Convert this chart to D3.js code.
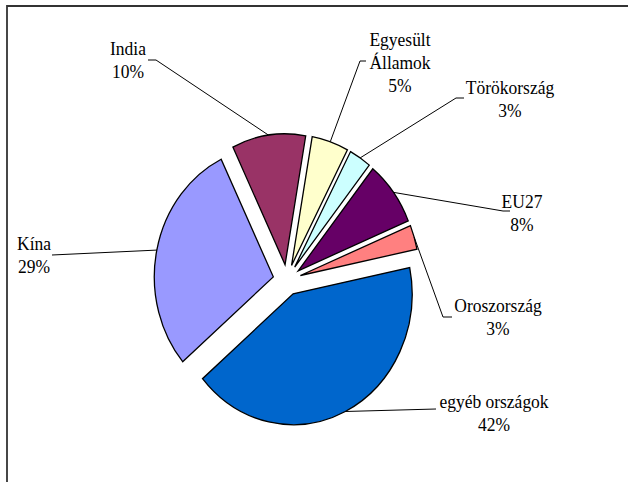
<!DOCTYPE html>
<html>
<head>
<meta charset="utf-8">
<script src="https://cdn.jsdelivr.net/npm/d3@7"></script>
<style>
  body { margin: 0; background: #fff; }
  .lbl text { font-family: "Liberation Serif", "Times New Roman", "DejaVu Serif", serif; font-size: 17.5px; }
</style>
</head>
<body>
<div id="chart"></div>
<script>
// data
var categories = ["India", "Egyesült Államok", "Törökország", "EU27", "Oroszország", "egyéb országok", "Kína"];
var shares = [10, 5, 3, 8, 3, 42, 29];
var colors = ["#993366", "#FFFFCC", "#CCFFFF", "#660066", "#FF8080", "#0066CC", "#9999FF"];

// label placement, as the labels were dragged in the original sheet
var labelLines = [["India"], ["Egyesült", "Államok"], ["Törökország"], ["EU27"], ["Oroszország"], ["egyéb országok"], ["Kína"]];
var labelPos = [[128, 55], [400, 46], [510, 94], [522, 208], [498, 312], [494, 408], [34, 250]];
var leaderPts = [
  [[156, 60], [148, 60]],
  [[360, 61], [366, 61]],
  [[456, 98], [464, 98]],
  [[503, 211], [510, 211]],
  [[443, 317], [452, 317]],
  [[436, 409]],
  [[52, 255]]
];

var width = 628, height = 482;
var cx = 287, cy = 280, rx = 119, k = 1.1, explode = 14;   // the pie is a bit taller than wide
var lineGap = 21;

var svg = d3.select("#chart")
  .append("svg")
    .attr("width", width)
    .attr("height", height);

// chart frame (cut off at right and bottom)
svg.append("path")
  .attr("d", "M7," + height + "V6H" + width)
  .attr("fill", "none")
  .attr("stroke", "#333")
  .attr("stroke-width", 1.8);

var pie = d3.pie()
  .sort(null)
  .value(function(d) { return d; })
  .startAngle(-26 * Math.PI / 180)
  .endAngle(-26 * Math.PI / 180 + 2 * Math.PI);

var arcs = pie(shares);
var arc = d3.arc().innerRadius(0).outerRadius(rx);

function mid(d) { return (d.startAngle + d.endAngle) / 2; }

var g = svg.append("g")
  .attr("transform", "translate(" + cx + "," + cy + ") scale(1," + k + ")");

g.selectAll("path")
  .data(arcs)
  .enter()
  .append("path")
    .attr("transform", function(d) {
      var a = mid(d);
      return "translate(" + (explode * Math.sin(a)) + "," + (-explode * Math.cos(a)) + ")";
    })
    .attr("d", arc)
    .attr("fill", function(d, i) { return colors[i]; })
    .attr("stroke", "#000")
    .attr("stroke-width", 1.3)
    .attr("stroke-linejoin", "miter")
    .attr("vector-effect", "non-scaling-stroke");

// leader lines: from the middle of the outer edge to the label
svg.selectAll("polyline")
  .data(arcs)
  .enter()
  .append("polyline")
    .attr("points", function(d, i) {
      var a = mid(d), r = rx + explode;
      var pts = [[cx + r * Math.sin(a), cy - r * Math.cos(a) * k]].concat(leaderPts[i]);
      return pts.map(function(p) { return p.join(","); }).join(" ");
    })
    .attr("fill", "none")
    .attr("stroke", "#000")
    .attr("stroke-width", 1);

// labels
var labels = svg.selectAll("g.lbl")
  .data(arcs)
  .enter()
  .append("g")
    .attr("class", "lbl")
    .attr("transform", function(d, i) {
      return "translate(" + labelPos[i][0] + "," + labelPos[i][1] + ") scale(1," + k + ")";
    });

labels.append("text")
  .attr("text-anchor", "middle")
  .attr("fill", "#000")
  .each(function(d, i) {
    var t = d3.select(this);
    var lines = labelLines[i].concat([shares[i] + "%"]);
    lines.forEach(function(s, j) {
      t.append("tspan").attr("x", 0).attr("y", j * lineGap).text(s);
    });
  });
</script>
</body>
</html>
